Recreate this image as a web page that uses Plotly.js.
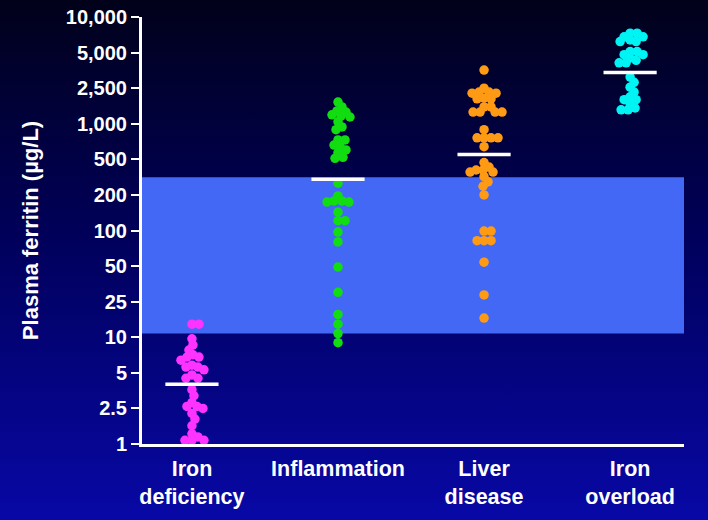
<!DOCTYPE html>
<html>
<head>
<meta charset="utf-8">
<script src="https://cdn.plot.ly/plotly-3.0.1.min.js"></script>
<style>
  html, body { margin: 0; padding: 0; }
  body { width: 708px; height: 520px; overflow: hidden;
         background: linear-gradient(to bottom, #01011a 0%, #00005a 45%, #0808a6 100%); }
  #chart { width: 708px; height: 520px; }
</style>
</head>
<body>
<div id="chart"></div>
<script>
// ---- data (plasma ferritin, µg/L) ----
const categories = ['Iron<br>deficiency', 'Inflammation', 'Liver<br>disease', 'Iron<br>overload'];
const ironDeficiency = [14, 14, 9.7, 8.6, 7.8, 7.1, 6.8, 6.8, 6.4, 5.8, 5.6, 5.6, 5.3, 4.8, 4.5, 4.5,
  3.6, 3.2, 2.8, 2.6, 2.6, 2.5, 2.2, 1.9, 1.6, 1.3, 1.2, 1.1, 1.1, 1.1];
const inflammation = [1750, 1540, 1390, 1350, 1260, 1220, 1190, 1050, 940, 890, 730, 730, 660, 640,
  600, 570, 520, 510, 270, 196, 178, 178, 174, 174, 143, 121, 121, 97, 80, 49, 30, 18, 14, 11, 9];
const liverDisease = [3560, 2500, 2260, 2260, 2200, 2200, 1930, 1900, 1900, 1540, 1540, 1350, 1350,
  1350, 1350, 890, 760, 760, 760, 760, 640, 460, 410, 380, 380, 360, 360, 320, 280, 250, 200,
  99, 99, 82, 82, 82, 54, 28.5, 16.4];
const ironOverload = [7300, 7300, 6800, 6800, 6400, 6200, 6200, 5100, 5100, 4800, 4800, 4500, 4300,
  4100, 4100, 3100, 2800, 2550, 2260, 2000, 1860, 1860, 1670, 1500, 1430, 1430];
const medians = [4.0, 300, 550, 3400];
const referenceRange = [11, 316];
const tickVals = [1, 2.5, 5, 10, 25, 50, 100, 200, 500, 1000, 2500, 5000, 10000];
const tickLabels = ['1', '2.5', '5', '10', '25', '50', '100', '200', '500', '1,000', '2,500', '5,000', '10,000'];

const groups = [ironDeficiency, inflammation, liverDisease, ironOverload];
const colors = ['#ff33ff', '#11dd11', '#ff9a14', '#00f4f4'];

// The original axis places its labelled ticks at equal distances (a segmented log scale).
function toAxis(v) {
  for (let i = 0; i < tickVals.length - 1; i++) {
    if (v <= tickVals[i + 1] || i === tickVals.length - 2) {
      return i + Math.log(v / tickVals[i]) / Math.log(tickVals[i + 1] / tickVals[i]);
    }
  }
}

// geometry used for a simple beeswarm layout
const PX_PER_Y = 427 / 12;     // pixels per axis unit (y)
const PX_PER_X = 146.3;        // pixels per category
const DIAM = 9.5;
const MIN_DIST = 6.2;

function swarm(values) {
  const placed = [];
  const order = values.map((v, i) => i).sort((a, b) => values[b] - values[a]);
  const offs = new Array(values.length).fill(0);
  order.forEach(i => {
    const yp = toAxis(values[i]) * PX_PER_Y;
    let best = 0;
    for (let k = 0; k < 200; k++) {
      const cand = (k % 2 === 1 ? 1 : -1) * Math.ceil(k / 2);
      const ok = placed.every(p => Math.hypot(p.x - cand, p.y - yp) >= MIN_DIST);
      if (ok) { best = cand; break; }
    }
    placed.push({ x: best, y: yp });
    offs[i] = best;
  });
  return offs;
}

const traces = [];
groups.forEach((vals, g) => {
  const offs = swarm(vals);
  traces.push({
    type: 'scatter', mode: 'markers',
    x: vals.map((v, i) => g + offs[i] / PX_PER_X),
    y: vals.map(toAxis),
    marker: { color: colors[g], size: DIAM, line: { width: 0 } },
    cliponaxis: false, hoverinfo: 'skip', showlegend: false
  });
});
medians.forEach((m, g) => {
  traces.push({
    type: 'scatter', mode: 'lines',
    x: [g - 0.182, g + 0.182], y: [toAxis(m), toAxis(m)],
    line: { color: '#ffffff', width: 3.5 },
    hoverinfo: 'skip', showlegend: false
  });
});

const FONT = 'Liberation Sans, Arial, sans-serif';
const layout = {
  width: 708, height: 520,
  margin: { l: 142, r: 24, t: 17, b: 76 },
  paper_bgcolor: 'rgba(0,0,0,0)', plot_bgcolor: 'rgba(0,0,0,0)',
  font: { family: FONT, color: '#ffffff' },
  xaxis: {
    range: [-0.342, 3.369], showgrid: false, zeroline: false,
    tickvals: [0, 1, 2, 3], ticktext: categories, ticks: '',
    ticklabelstandoff: 3,
    tickfont: { size: 21.5, color: '#ffffff', family: FONT, weight: 'bold' },
    showline: true, linecolor: '#ffffff', linewidth: 3, fixedrange: true
  },
  yaxis: {
    range: [0, 12], showgrid: false, zeroline: false,
    tickvals: tickVals.map((v, i) => i), ticktext: tickLabels,
    ticks: 'outside', ticklen: 8, tickwidth: 2, tickcolor: '#ffffff',
    tickfont: { size: 20, color: '#ffffff', family: FONT, weight: 'bold' },
    showline: true, linecolor: '#ffffff', linewidth: 3, fixedrange: true,
    title: { text: 'Plasma ferritin (µg/L)', standoff: 22,
             font: { size: 22, color: '#ffffff', family: FONT, weight: 'bold' } }
  },
  shapes: [{
    type: 'rect', layer: 'below', xref: 'paper', x0: 0, x1: 1, yref: 'y',
    y0: toAxis(referenceRange[0]), y1: toAxis(referenceRange[1]),
    fillcolor: '#4468f6', line: { width: 0 }
  }]
};

Plotly.newPlot('chart', traces, layout, { displayModeBar: false, staticPlot: true });
</script>
</body>
</html>
